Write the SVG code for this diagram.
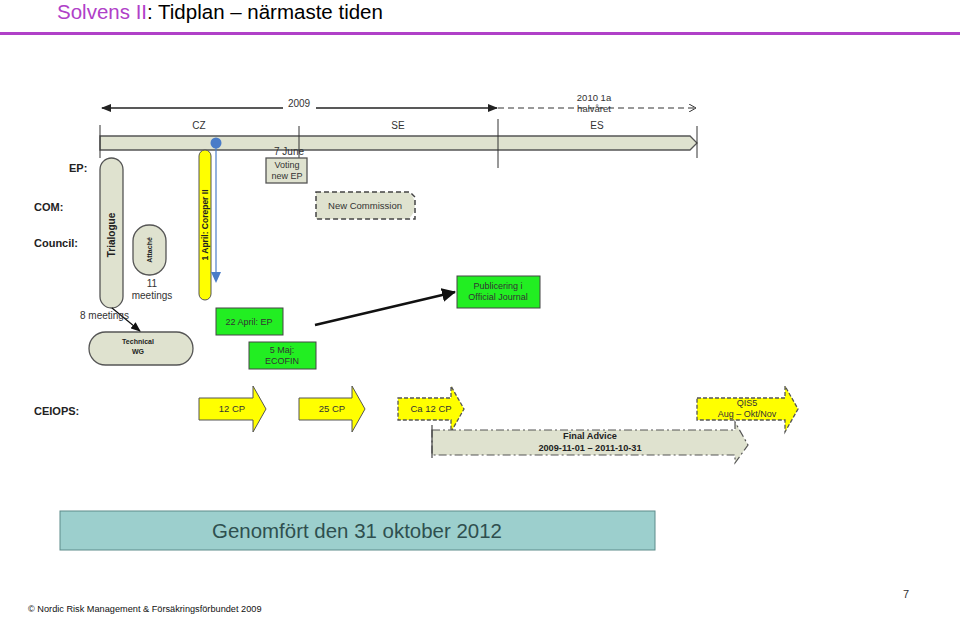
<svg xmlns="http://www.w3.org/2000/svg" width="960" height="618" viewBox="0 0 960 618">
<style>
text{font-family:"Liberation Sans",Arial,sans-serif;fill:#222}
.lbl{font-size:11px;font-weight:bold;fill:#222}
.s{font-size:10px;fill:#333}
.b{font-weight:bold}
.beige{fill:#dfe2cf;stroke:#555;stroke-width:1.3}
.green{fill:#22ee22;stroke:#444;stroke-width:1}
.yel{fill:#ffff00;stroke:#555;stroke-width:1}
.tick{stroke:#333;stroke-width:1}
</style>
<defs>
<marker id="ah" markerWidth="10" markerHeight="8" refX="9" refY="4" orient="auto" markerUnits="userSpaceOnUse"><path d="M0,0 L10,4 L0,8 Z" fill="#111"/></marker>
<marker id="ahl" markerWidth="10" markerHeight="8" refX="9" refY="4" orient="auto" markerUnits="userSpaceOnUse"><path d="M0,0 L10,4 L0,8 Z" fill="#222"/></marker>
<marker id="aho" markerWidth="8" markerHeight="8" refX="7" refY="4" orient="auto" markerUnits="userSpaceOnUse"><path d="M0,0 L7,4 L0,8" fill="none" stroke="#333" stroke-width="1"/></marker>
<marker id="ahb" markerWidth="14" markerHeight="14" refX="13" refY="7" orient="auto" markerUnits="userSpaceOnUse"><path d="M0,0 L14,7 L0,14 Z" fill="#111"/></marker>
</defs>

<g id="title">
<text x="57" y="19" font-size="20.5" style="fill:#b040c8">Solvens II<tspan style="fill:#000">: Tidplan – närmaste tiden</tspan></text>
<rect x="0" y="32" width="960" height="3" fill="#b040c8"/>
</g>

<g id="timeline">
<line x1="283" y1="108" x2="102" y2="108" stroke="#222" stroke-width="1.3" marker-end="url(#ahl)"/>
<line x1="316" y1="108" x2="497" y2="108" stroke="#222" stroke-width="1.3" marker-end="url(#ahl)"/>
<text x="299" y="107" font-size="10" text-anchor="middle" style="fill:#333">2009</text>
<line x1="498" y1="108" x2="696" y2="108" stroke="#333" stroke-width="1" stroke-dasharray="6,4" marker-end="url(#aho)"/>
<text x="594" y="101" font-size="9.5" text-anchor="middle" style="fill:#333">2010 1a</text>
<text x="594" y="112" font-size="9.5" text-anchor="middle" style="fill:#333">halvåret</text>
<path d="M100,136 H690 L697,143 L690,150 H100 Z" class="beige"/>
<line x1="100" y1="125" x2="100" y2="158" class="tick"/>
<line x1="299" y1="126" x2="299" y2="165" class="tick"/>
<line x1="498" y1="119" x2="498" y2="168" class="tick"/>
<line x1="697" y1="126" x2="697" y2="158" class="tick"/>
<text x="199" y="129" font-size="10" text-anchor="middle" style="fill:#333">CZ</text>
<text x="398" y="129" font-size="10" text-anchor="middle" style="fill:#333">SE</text>
<text x="597" y="129" font-size="10" text-anchor="middle" style="fill:#333">ES</text>
</g>

<g id="labels">
<text x="69" y="172" class="lbl">EP:</text>
<text x="34" y="211" class="lbl">COM:</text>
<text x="34" y="247" class="lbl">Council:</text>
<text x="34" y="415" class="lbl">CEIOPS:</text>
</g>

<g id="trialogue">
<rect x="100" y="158" width="23" height="150" rx="11.5" class="beige"/>
<text transform="translate(115,235) rotate(-90)" font-size="10" text-anchor="middle" class="b">Trialogue</text>
</g>

<g id="attache">
<rect x="133" y="225" width="33" height="50" rx="16" class="beige"/>
<text transform="translate(152,250) rotate(-90)" font-size="7" text-anchor="middle" class="b">Attaché</text>
<text x="152" y="287" class="s" text-anchor="middle">11</text>
<text x="152" y="299" class="s" text-anchor="middle">meetings</text>
</g>

<g id="technical-wg">
<rect x="89" y="332" width="104" height="33" rx="16.5" class="beige"/>
<text x="138" y="344" font-size="7" text-anchor="middle" class="b">Technical</text>
<text x="138" y="354" font-size="7" text-anchor="middle" class="b">WG</text>
</g>

<g id="coreper">
<rect x="199" y="150" width="12" height="150" rx="6" class="yel"/>
<text transform="translate(208,225) rotate(-90)" font-size="8.5" text-anchor="middle" class="b">1 April: Coreper II</text>
</g>

<g id="voting">
<text x="289" y="155" class="s" text-anchor="middle">7 June</text>
<rect x="266" y="158" width="41" height="25" class="beige" stroke-width="1"/>
<text x="287" y="168" font-size="9" text-anchor="middle" style="fill:#333">Voting</text>
<text x="287" y="179" font-size="9" text-anchor="middle" style="fill:#333">new EP</text>
</g>

<g id="new-commission">
<path d="M316,192 H408 Q415,196 415,205 Q415,214 408,219 H316 Z" fill="#dfe2cf"/>
<path d="M316,192 H410 L415,197 V219 H316 Z" fill="none" stroke="#444" stroke-width="1.5" stroke-dasharray="5,3"/>
<text x="365" y="209" font-size="9.5" text-anchor="middle" style="fill:#333">New Commission</text>
</g>

<g id="ep-22april">
<rect x="216" y="308" width="67" height="27" class="green"/>
<text x="249" y="325" font-size="9" text-anchor="middle" style="fill:#333">22 April: EP</text>
</g>

<g id="ecofin">
<rect x="249" y="342" width="67" height="27" class="green"/>
<text x="282" y="353" font-size="9" text-anchor="middle" style="fill:#333">5 Maj:</text>
<text x="282" y="364" font-size="9" text-anchor="middle" style="fill:#333">ECOFIN</text>
</g>

<g id="publicering">
<rect x="457" y="276" width="83" height="32" class="green" stroke="#3a3"/>
<text x="498" y="289" font-size="9" text-anchor="middle" style="fill:#333">Publicering i</text>
<text x="498" y="300" font-size="9" text-anchor="middle" style="fill:#333">Official Journal</text>
</g>

<g id="cp12">
<path d="M199,398 H253 V386 L266,409 L253,432 V420 H199 Z" class="yel"/>
<text x="232" y="412" font-size="9.5" text-anchor="middle" style="fill:#333">12 CP</text>
</g>
<g id="cp25">
<path d="M299,398 H352 V386 L365,409 L352,432 V420 H299 Z" class="yel"/>
<text x="332" y="412" font-size="9.5" text-anchor="middle" style="fill:#333">25 CP</text>
</g>
<g id="ca12cp">
<path d="M398,398 H451 V386 L464,409 L451,432 V420 H398 Z" fill="#ffff00" stroke="#555" stroke-width="1.3" stroke-dasharray="4,2"/>
<text x="431" y="412" font-size="9.5" text-anchor="middle" style="fill:#333">Ca 12 CP</text>
</g>
<g id="final-advice">
<path d="M432,430 H735 V422 L748,445 L735,463 V455 H432 Z" fill="#dfe2cf" stroke="#555" stroke-width="1.2" stroke-dasharray="8,3,2,3"/>
<line x1="432" y1="425" x2="432" y2="458" stroke="#444" stroke-width="1.2"/>
<text x="590" y="439" font-size="9.2" text-anchor="middle" class="b">Final Advice</text>
<text x="590" y="451" font-size="9.2" text-anchor="middle" class="b">2009-11-01 – 2011-10-31</text>
</g>
<g id="qis5">
<path d="M697,398 H785 V386 L798,409 L785,432 V420 H697 Z" fill="#ffff00" stroke="#555" stroke-width="1.3" stroke-dasharray="4,2"/>
<text x="747" y="406" font-size="9" text-anchor="middle" style="fill:#333">QIS5</text>
<text x="747" y="417" font-size="9" text-anchor="middle" style="fill:#333">Aug – Okt/Nov</text>
</g>

<g id="connectors">
<line x1="216" y1="143" x2="216" y2="272" stroke="#4a7cc8" stroke-width="1.2"/>
<path d="M211,272 L221,272 L216,283 Z" fill="#4a7cc8"/>
<circle cx="216" cy="143" r="5.5" fill="#4a7cc8"/>
<line x1="112" y1="308" x2="140" y2="331" stroke="#111" stroke-width="1.2" marker-end="url(#ah)"/>
<text x="80" y="319" class="s">8 meetings</text>
<line x1="315" y1="325" x2="455" y2="292" stroke="#111" stroke-width="2.5" marker-end="url(#ahb)"/>
</g>

<g id="banner">
<rect x="60" y="511" width="595" height="39" fill="#9ccfcd" stroke="#5d8b8a" stroke-width="1"/>
<text x="357" y="538" font-size="20" text-anchor="middle" textLength="290" lengthAdjust="spacingAndGlyphs" style="fill:#2f4f4f">Genomfört den 31 oktober 2012</text>
</g>

<g id="footer">
<text x="28" y="612" font-size="9.2" style="fill:#111">© Nordic Risk Management &amp; Försäkringsförbundet 2009</text>
<text x="906" y="598" font-size="11" text-anchor="middle" style="fill:#333">7</text>
</g>
</svg>
